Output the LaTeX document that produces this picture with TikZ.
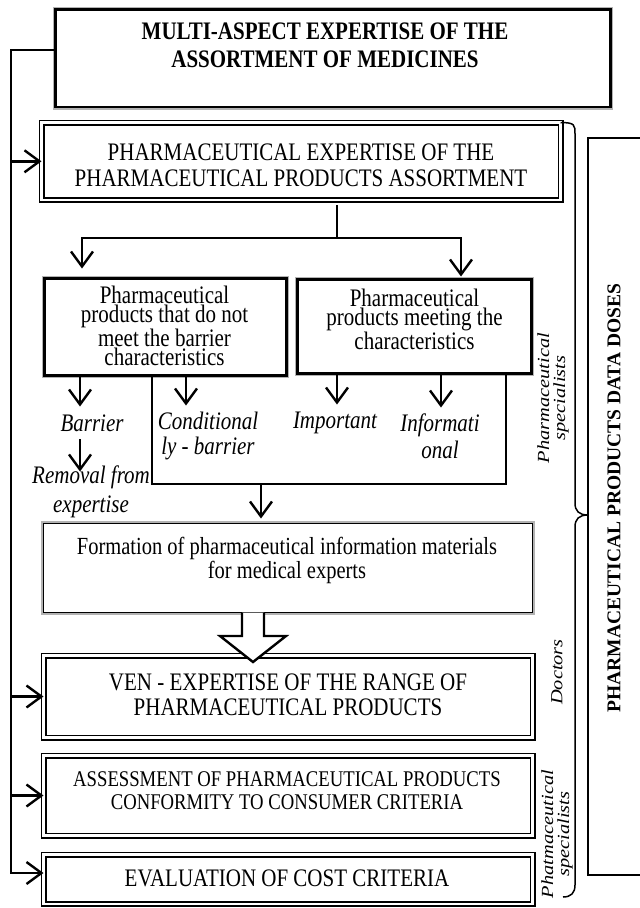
\documentclass[tikz,border=0pt]{standalone}
\usepackage{fontspec}
\setmainfont{Liberation Serif}
\usetikzlibrary{arrows.meta,calc}
\newcommand\fsz[2]{\fontsize{#1}{#2}\selectfont}
\begin{document}
\begin{tikzpicture}[x=1pt,y=-1pt,
  every node/.style={inner sep=0pt,outer sep=0pt},
  arr/.style={line width=2.4pt,-{Straight Barb[length=15pt,width=22pt,sharp]}},
  topbox/.style={draw=black,line width=2.4pt,fill=white,preaction={draw=gray!60,line width=5pt}},
  dbox/.style={draw=black,line width=1.6pt,double=white,double distance=2.8pt,fill=white},
  thbox/.style={draw=black,line width=3pt,fill=white,preaction={draw=gray!60,line width=5.6pt}},
  fbox/.style={draw=black,line width=1.2pt,fill=white,preaction={draw=gray!60,line width=4.2pt}},
  tx/.style={align=center,yscale=1.2},
  itx/.style={align=center,yscale=1.2,font=\fsz{21}{21}\itshape},
  rtx/.style={align=center,rotate=90,xscale=1.2,font=\fsz{17}{16}\itshape}
]
\useasboundingbox (0,0) rectangle (640,908);

% boxes
\node[topbox,minimum width=555pt,minimum height=97.5pt] (multi) at (333,58.3) {};
\node[dbox,minimum width=519pt,minimum height=77.5pt] (pharm) at (301,161.3) {};
\node[thbox,minimum width=242pt,minimum height=97pt] (notmeet) at (165.5,327) {};
\node[thbox,minimum width=234pt,minimum height=94pt] (meet) at (414.5,326.5) {};
\node[fbox,minimum width=489pt,minimum height=89pt] (formation) at (288,568) {};
\node[dbox,minimum width=489pt,minimum height=82pt] (ven) at (288,696.5) {};
\node[dbox,minimum width=489pt,minimum height=80pt] (assess) at (288,795.5) {};
\node[dbox,minimum width=489pt,minimum height=49.5pt] (eval) at (288,879.3) {};
\node[draw=black,line width=1.4pt,minimum width=120pt,minimum height=737pt] (doses) at (648,506.5) {};

% texts
\node[tx,font=\fsz{21}{23.3}\bfseries] (multitxt) at (325,45) {MULTI-ASPECT EXPERTISE OF THE\\ASSORTMENT OF MEDICINES};
\node[tx,font=\fsz{21}{21.7}] (pharmtxt) at (301,165) {PHARMACEUTICAL EXPERTISE OF THE\\PHARMACEUTICAL PRODUCTS ASSORTMENT};
\node[tx,font=\fsz{21}{16}] (notmeettxt) at (164.5,326) {Pharmaceutical\\products that do not\\meet the barrier\\characteristics};
\node[tx,font=\fsz{21}{15.8}] (meettxt) at (414.5,319) {Pharmaceutical\\products meeting the\\characteristics};
\node[itx] (barr) at (92,423) {Barrier};
\node[itx,font=\fsz{21}{20.8}\itshape] (cond) at (208,435.5) {Conditional\\ly - barrier};
\node[itx] (imp) at (335,423) {Important};
\node[itx,font=\fsz{21}{22.5}\itshape] (info) at (440,436.5) {Informati\\onal};
\node[itx,font=\fsz{21}{24}\itshape] (remov) at (91,492) {Removal from\\expertise};
\node[tx,font=\fsz{20.5}{20}] (formtxt) at (287,560) {Formation of pharmaceutical information materials\\for medical experts};
\node[tx,font=\fsz{21}{20.8}] (ventxt) at (288,694.5) {VEN - EXPERTISE OF THE RANGE OF\\PHARMACEUTICAL PRODUCTS};
\node[tx,font=\fsz{18.7}{19.2}] (assesstxt) at (287,790.5) {ASSESSMENT OF PHARMACEUTICAL PRODUCTS\\CONFORMITY TO CONSUMER CRITERIA};
\node[tx,font=\fsz{21}{21}] (evaltxt) at (287,878) {EVALUATION OF COST CRITERIA};
\node[rtx] (spec1) at (553,398) {Pharmaceutical\\specialists};
\node[rtx] (doct) at (557,672) {Doctors};
\node[rtx] (spec2) at (557,834) {Phatmaceutical\\specialists};
\node[rotate=90,font=\fsz{19.5}{24}\bfseries] (dosetxt) at (614,498) {PHARMACEUTICAL PRODUCTS DATA DOSES};

% feedback line
\coordinate (fbtop) at (11,50);
\coordinate (fbbot) at (11,873);
\draw[arr,line join=miter] (multi.west |- fbtop) -- (fbtop) -- (fbbot) -- (fbbot -| eval.west);
\draw[arr] (fbtop |- pharm.west) -- (pharm.west);
\draw[arr] (fbtop |- ven.west) -- (ven.west);
\draw[arr] (fbtop |- assess.west) -- (assess.west);

% branching
\coordinate (split) at (337,238);
\coordinate (bl) at (82,238);
\coordinate (br) at (461,238);
\draw[line width=1.2pt] ($(split |- pharm.south)+(0,5)$) -- (split);
\draw[arr,line join=miter] (split) -- (bl) -- ($(bl |- notmeet.north)+(0,-10)$);
\draw[arr,line join=miter] (split) -- (br) -- ($(br |- meet.north)+(0,-3)$);

% arrows below the two boxes
\draw[arr] ($(notmeet.south west)+(35.5,0)$) -- ++(0,31);
\draw[arr] ($(notmeet.south west)+(141.5,0)$) -- ++(0,30);
\draw[arr] ($(meet.south west)+(39.5,0)$) -- ++(0,31);
\draw[arr] ($(meet.south west)+(143.5,0)$) -- ++(0,34);
\draw[arr] ($(barr.south)+(-12,8)$) -- ++(0,32);

% bracket and arrow to formation
\coordinate (brl) at (152,484);
\coordinate (brr) at (506,484);
\coordinate (brm) at (261,484);
\draw[line width=1.3pt] (brl |- notmeet.south) -- (brl) -- (brr) -- (brr |- meet.south);
\draw[arr] (brm) -- ($(brm |- formation.north)+(0,-5)$);

% hollow arrow
\draw[line width=2.4pt,fill=white,line join=miter]
  ($(formation.south)+(-46,0)$) -- ++(0,23.5) -- ++(-22,0) -- ++(33,26) -- ++(33,-26) -- ++(-22,0) -- ++(0,-23.5);

% brace
\draw[line width=1.5pt] (pharm.north east) .. controls (575,122.5) and (575,125) .. (575,134)
  -- (575,503) .. controls (575,511) and (579,515) .. (doses.west |- 0,515)
  .. controls (579,515) and (575,519) .. (575,527)
  -- (575,885) .. controls (575,893) and (571,897) .. (563,897);
\end{tikzpicture}
\end{document}
